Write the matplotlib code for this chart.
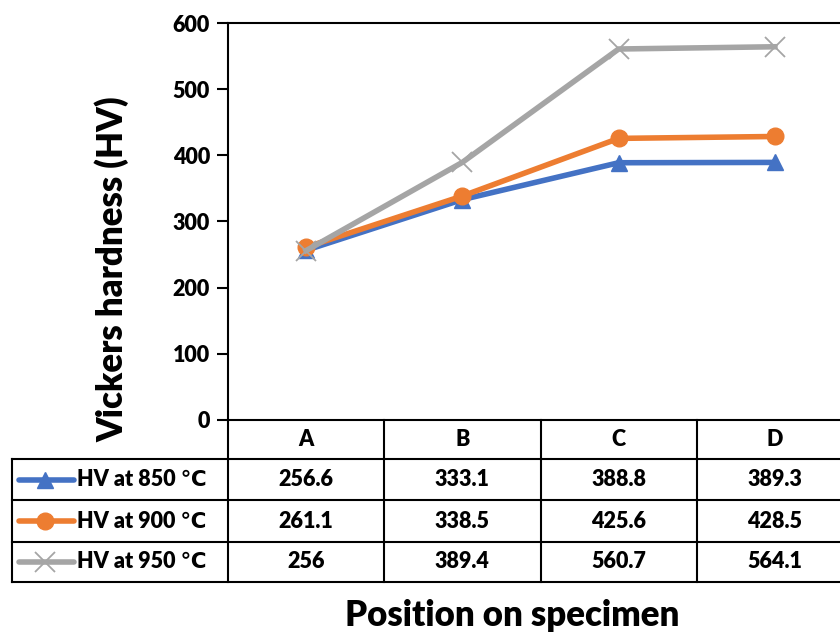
import matplotlib
matplotlib.use("Agg")
import matplotlib.pyplot as plt
from matplotlib.lines import Line2D

plt.rcParams['font.family'] = ['Lato', 'DejaVu Sans']
plt.rcParams['font.weight'] = 'heavy'
FW = 'heavy'

# data
positions = ['A', 'B', 'C', 'D']
hv_850 = [256.6, 333.1, 388.8, 389.3]
hv_900 = [261.1, 338.5, 425.6, 428.5]
hv_950 = [256, 389.4, 560.7, 564.1]
series_names = ['HV at 850 \u2103', 'HV at 900 \u2103', 'HV at 950 \u2103']
series_vals = [hv_850, hv_900, hv_950]
colors = ['#4472C4', '#ED7D31', '#A5A5A5']
markers = ['^', 'o', 'x']
msizes = [12, 12, 14]
mwidths = [1, 1, 1.3]

W, H = 840, 634
fig = plt.figure(figsize=(W / 100, H / 100), dpi=100)

# plot area in pixels (from top-left)
x0, x1 = 228, 853
y_top, y_bot = 23, 420
ax = fig.add_axes([x0 / W, 1 - y_bot / H, (x1 - x0) / W, (y_bot - y_top) / H])

xs = range(len(positions))
for vals, c, m, ms, mw in zip(series_vals, colors, markers, msizes, mwidths):
    ax.plot(xs, vals, color=c, lw=4, marker=m, ms=ms, mew=mw, zorder=3)

ax.set_xlim(-0.5, 3.5)
ax.set_ylim(0, 600)
ax.set_yticks(range(0, 601, 100))
ax.set_xticks([])
ax.tick_params(axis='y', length=8, width=1.5, labelsize=15.5, pad=5)
for lab in ax.get_yticklabels():
    lab.set_fontweight(FW)
ax.spines['right'].set_visible(False)
for s in ['left', 'top', 'bottom']:
    ax.spines[s].set_linewidth(1.5)


def px(x, y):
    return x / W, 1 - y / H


fig.text(*px(112, 269), 'Vickers hardness (HV)', rotation=90, ha='center', va='center',
         fontsize=25, fontweight=FW)

# data table drawn under the axes, in pixel coordinates
col_w = (x1 - x0) / len(positions)
row_edges = [420, 459, 500, 542, 582]
kw = dict(color='black', lw=1.5, transform=fig.transFigure, clip_on=False)

# vertical column lines
for i in range(len(positions)):
    xa = x0 + i * col_w
    fig.add_artist(Line2D(*zip(px(xa, row_edges[0]), px(xa, row_edges[-1])), **kw))
# left label column border
fig.add_artist(Line2D(*zip(px(12, row_edges[1]), px(12, row_edges[-1])), **kw))
# horizontal lines
for yr in row_edges[1:]:
    fig.add_artist(Line2D(*zip(px(12, yr), px(W + 20, yr)), **kw))

# header text
for i, p in enumerate(positions):
    xc = x0 + (i + 0.5) * col_w
    fig.text(*px(xc, (row_edges[0] + row_edges[1]) / 2), p, ha='center', va='center',
             fontsize=15.5, fontweight=FW)

# rows: legend key, series name, values
for r, (name, vals, c, m, ms, mw) in enumerate(
        zip(series_names, series_vals, colors, markers, msizes, mwidths)):
    yc = (row_edges[r + 1] + row_edges[r + 2]) / 2
    fig.add_artist(Line2D(*zip(px(19, yc), px(74, yc)), color=c, lw=4,
                          solid_capstyle='round', transform=fig.transFigure))
    fig.add_artist(Line2D([px(45, yc)[0]], [px(45, yc)[1]], color=c, marker=m,
                          ms=ms, mew=mw, transform=fig.transFigure))
    fig.text(*px(77, yc), name, ha='left', va='center', fontsize=15.5, fontweight=FW)
    for i, v in enumerate(vals):
        xc = x0 + (i + 0.5) * col_w
        fig.text(*px(xc, yc), f'{v:g}', ha='center', va='center',
                 fontsize=15.5, fontweight=FW)

fig.text(*px(512, 615), 'Position on specimen', ha='center', va='center',
         fontsize=25, fontweight=FW)

fig.savefig('out.png', dpi=100)
